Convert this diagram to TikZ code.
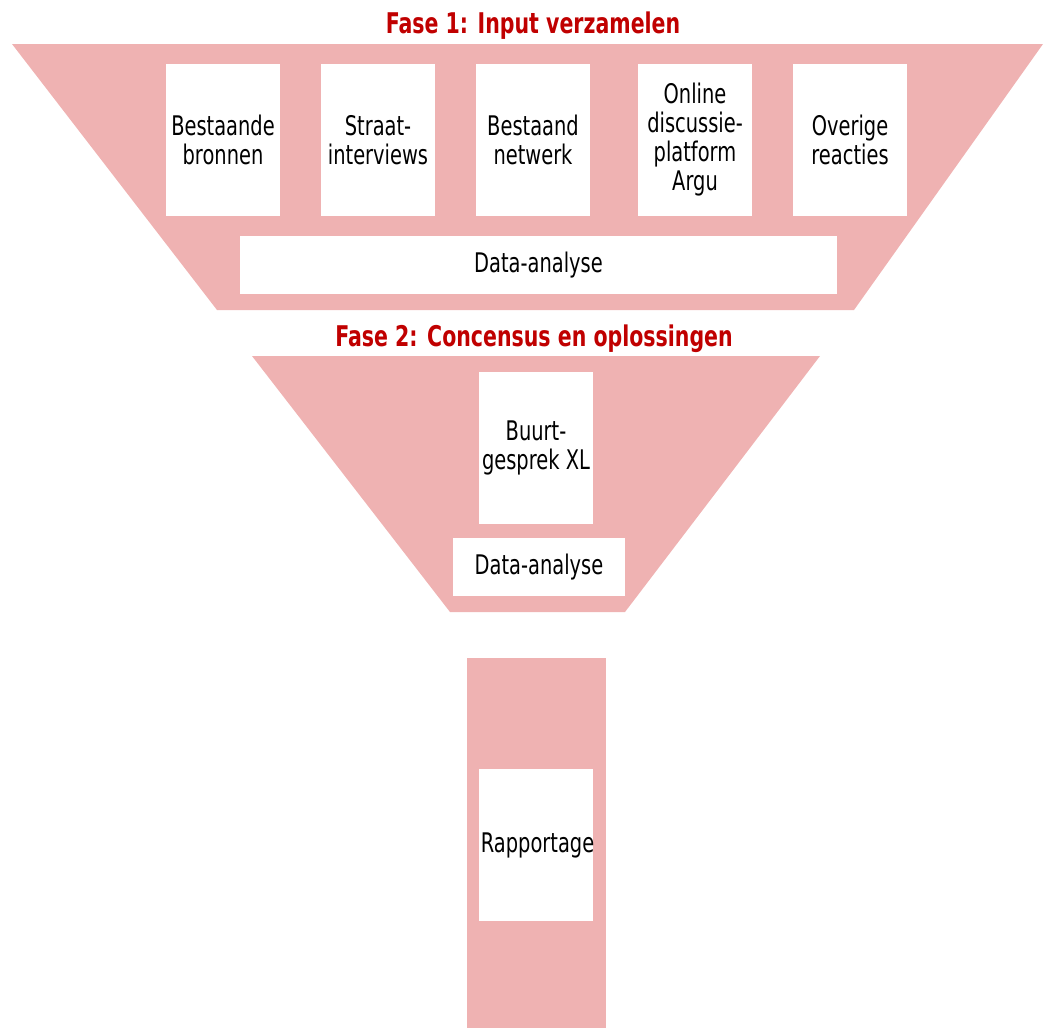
\documentclass[tikz,border=0pt]{standalone}
\usepackage{fontspec}
\setmainfont[FakeStretch=0.72]{DejaVu Sans}
\definecolor{funnelpink}{HTML}{EFB2B2}
\definecolor{titlered}{HTML}{C00000}
\begin{document}
\begin{tikzpicture}[x=1pt,y=-1pt,
  funnel/.style={fill=funnelpink},
  whitebox/.style={fill=white, inner sep=0pt, align=center, text=black,
    font=\fontsize{27}{29}\selectfont},
  phasetitle/.style={anchor=base, text=titlered, inner sep=0pt,
    font=\fontsize{28.5}{32}\selectfont\bfseries}]
\useasboundingbox (0,0) rectangle (1046,1028);
% funnel shapes
\fill[funnel] (12,44) -- (1043,44) -- (854,310) -- (217,310) -- cycle;
\fill[funnel] (252,356) -- (820,356) -- (625,612) -- (450,612) -- cycle;
\fill[funnel] (467,658) rectangle (606,1028);
% titles
\node[phasetitle] (t1) at (533,33) {Fase 1: Input verzamelen};
\node[phasetitle] (t2) at (534,346) {Fase 2: Concensus en oplossingen};
% phase 1 boxes
\node[whitebox, minimum width=114, minimum height=152] (b1) at (223,140) {Bestaande\\bronnen};
\node[whitebox, minimum width=114, minimum height=152] (b2) at (378,140) {Straat-\\interviews};
\node[whitebox, minimum width=114, minimum height=152] (b3) at (533,140) {Bestaand\\netwerk};
\node[whitebox, minimum width=114, minimum height=152] (b4) at (695,140) {Online\\discussie-\\platform\\Argu};
\node[whitebox, minimum width=114, minimum height=152] (b5) at (850,140) {Overige\\reacties};
\node[whitebox, minimum width=597, minimum height=58] (d1) at (538.5,265) {\raisebox{-3pt}{Data-analyse}};
% phase 2 boxes
\node[whitebox, minimum width=114, minimum height=152] (b6) at (536,448) {Buurt-\\gesprek XL};
\node[whitebox, minimum width=172, minimum height=58] (d2) at (539,567) {\raisebox{-2pt}{Data-analyse}};
% phase 3
\node[whitebox, minimum width=114, minimum height=152] (r) at (536,845) {\makebox[0pt]{\hspace*{3pt}Rapportage}};
\end{tikzpicture}
\end{document}
